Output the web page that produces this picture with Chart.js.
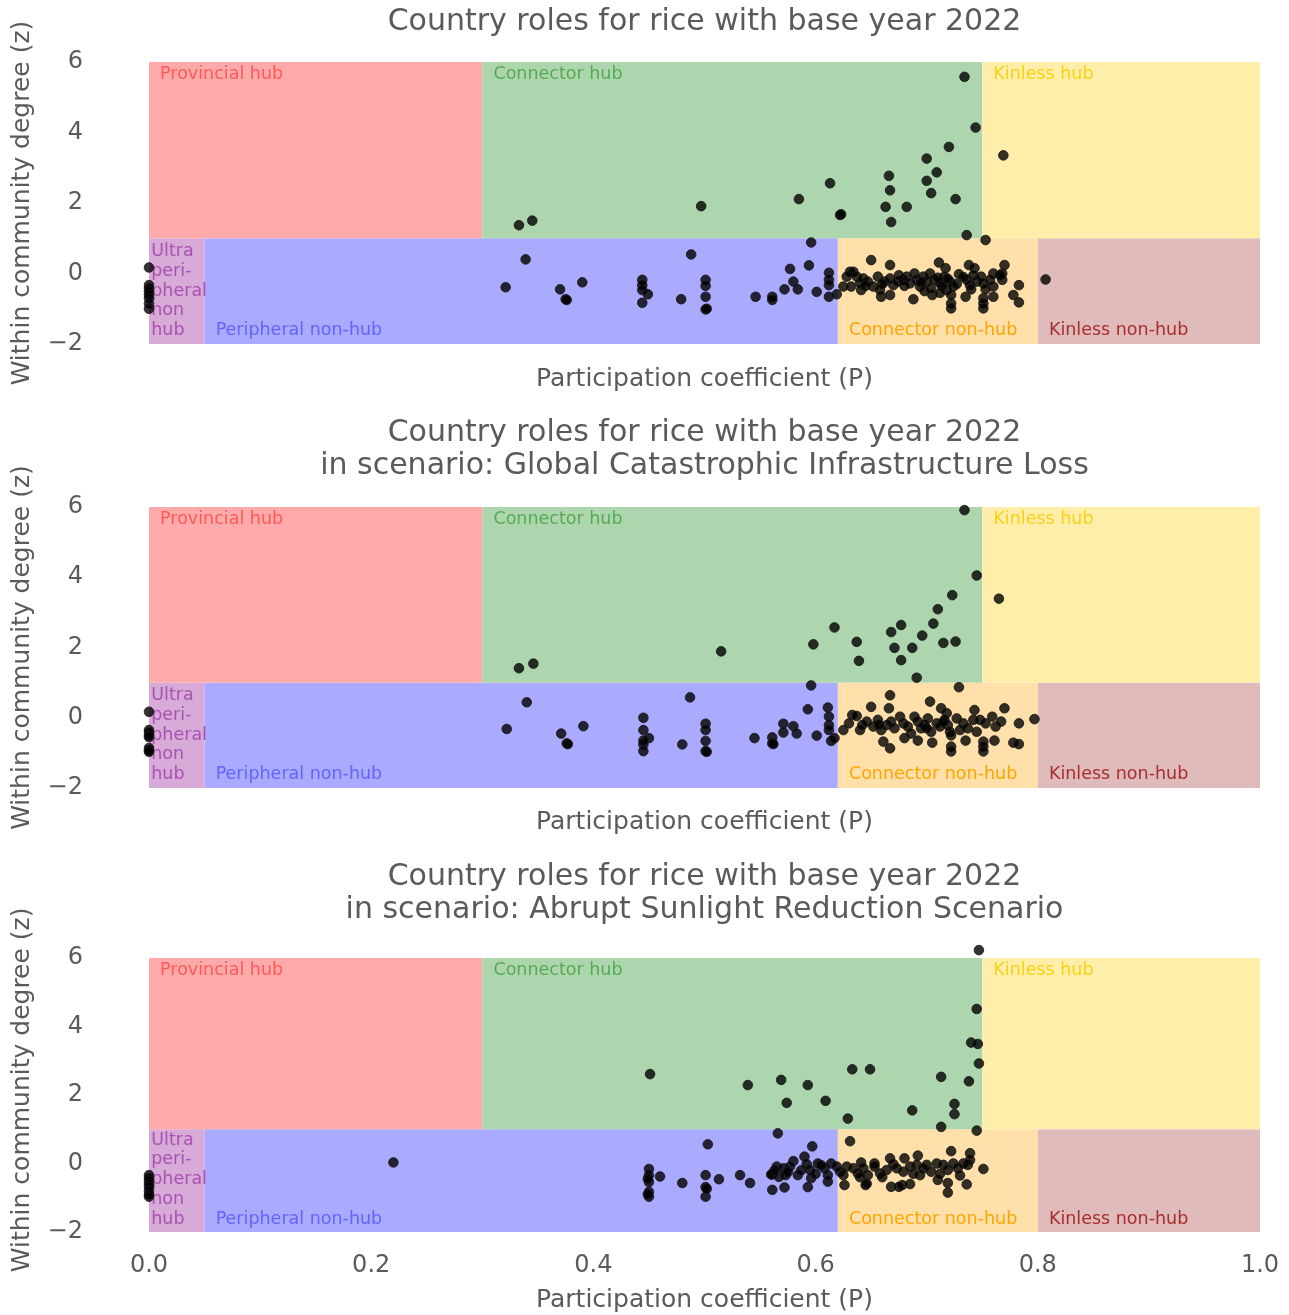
<!DOCTYPE html>
<html>
<head>
<meta charset="utf-8">
<title>Country roles for rice</title>
<script src="https://cdn.jsdelivr.net/npm/chart.js@4.4.1/dist/chart.umd.min.js"></script>
<style>
body { margin: 0; background: #fff; width: 1289px; height: 1315px; overflow: hidden; }
.panel { position: absolute; left: 0; width: 1289px; }
</style>
</head>
<body>
<div class="panel" style="top:0px"><canvas id="chartBase" width="1289" height="400"></canvas></div>
<div class="panel" style="top:400px"><canvas id="chartInfra" width="1289" height="445"></canvas></div>
<div class="panel" style="top:845px"><canvas id="chartSun" width="1289" height="470"></canvas></div>
<script>
// role regions (participation coefficient P, within community degree z)
const roleNames = ['Ultra\nperi-\npheral\nnon\nhub', 'Peripheral non-hub', 'Connector non-hub', 'Kinless non-hub',
                   'Provincial hub', 'Connector hub', 'Kinless hub'];
const roleP0 = [0, 0.05, 0.62, 0.8, 0, 0.3, 0.75];
const roleP1 = [0.05, 0.62, 0.8, 1.0, 0.3, 0.75, 1.0];
const roleZ0 = [-2, -2, -2, -2, 1, 1, 1];
const roleZ1 = [1, 1, 1, 1, 6, 6, 6];

const xTicks = [0, 0.2, 0.4, 0.6, 0.8, 1.0];
const zTicks = [-2, 0, 2, 4, 6];

// base year 2022
const baseP = [
  0, 0, 0, 0, 0, 0, 0, 0,
  0.321, 0.339, 0.370, 0.375, 0.376, 0.390, 0.444, 0.444, 0.444, 0.449, 0.444, 0.479, 0.488,
  0.501, 0.501, 0.501, 0.501, 0.502, 0.546, 0.561, 0.561, 0.572, 0.580, 0.584, 0.577, 0.594,
  0.596, 0.601, 0.612, 0.612, 0.612, 0.612, 0.619,
  0.333, 0.345, 0.497, 0.585, 0.613, 0.622, 0.623, 0.663, 0.666, 0.667, 0.668, 0.682, 0.700,
  0.700, 0.704, 0.709, 0.720, 0.726, 0.734, 0.744, 0.736, 0.769,
  0.753, 0.807, 0.650, 0.667, 0.711, 0.717, 0.738, 0.743, 0.770, 0.768, 0.760, 0.729, 0.783,
  0.778, 0.783, 0.751, 0.751, 0.751, 0.722, 0.722, 0.760, 0.735, 0.705, 0.688, 0.659, 0.667,
  0.641, 0.625, 0.631, 0.634, 0.632,
  0.628, 0.637, 0.640, 0.643, 0.647, 0.652, 0.656, 0.658, 0.662, 0.667, 0.670, 0.674, 0.679,
  0.682, 0.685, 0.689, 0.691, 0.694, 0.697, 0.700, 0.703, 0.704, 0.707, 0.712, 0.716, 0.718,
  0.721, 0.722, 0.724, 0.736, 0.739, 0.742, 0.745, 0.749, 0.751, 0.757, 0.760, 0.768, 0.766,
  0.695, 0.710, 0.714, 0.719, 0.727, 0.733, 0.680, 0.675, 0.660, 0.645, 0.753, 0.740, 0.698, 0.712
];
const baseZ = [
  0.17, -0.33, -0.42, -0.5, -0.6, -0.7, -0.85, -1.0,
  -0.39, 0.40, -0.45, -0.73, -0.75, -0.25, -0.18, -0.33, -0.47, -0.59, -0.83, -0.73, 0.54,
  -0.18, -0.35, -0.66, -1.02, -1.0, -0.66, -0.66, -0.75, -0.45, -0.23, -0.45, 0.13, 0.23,
  0.88, -0.52, 0.02, -0.18, -0.33, -0.66, -0.59,
  1.37, 1.50, 1.91, 2.11, 2.56, 1.66, 1.68, 1.89, 2.77, 2.36, 1.46, 1.89, 3.26,
  2.63, 2.28, 2.87, 3.59, 2.11, 5.58, 4.14, 1.09, 3.35,
  0.95, -0.17, 0.38, 0.24, 0.31, 0.15, 0.24, 0.15, 0.24, 0.0, 0.0, -0.02, -0.33,
  -0.61, -0.82, -0.70, -0.85, -0.99, -0.85, -0.99, -0.66, -0.66, -0.61, -0.73, -0.66, -0.61,
  -0.47, -0.37, 0.05, 0.05, -0.37,
  -0.09, -0.09, -0.28, -0.14, -0.23, -0.37, -0.09, -0.47, -0.23, -0.14, -0.33, -0.23, -0.18,
  -0.09, -0.28, 0.0, -0.18, -0.37, -0.09, -0.23, 0.0, -0.42, -0.18, -0.28, -0.09, -0.47,
  -0.23, -0.61, -0.37, -0.18, -0.33, -0.05, -0.23, -0.09, -0.28, -0.18, -0.37, -0.18, -0.05,
  -0.25, -0.12, -0.35, -0.15, -0.30, -0.10, -0.35, -0.05, -0.30, -0.35, -0.45, -0.45, -0.50, -0.55
];

// scenario: Global Catastrophic Infrastructure Loss
const infraP = [
  0, 0, 0, 0, 0, 0, 0, 0,
  0.322, 0.340, 0.371, 0.376, 0.377, 0.391, 0.445, 0.445, 0.450, 0.445, 0.445, 0.445, 0.480,
  0.487, 0.501, 0.501, 0.501, 0.501, 0.502, 0.545, 0.561, 0.561, 0.562, 0.571, 0.571, 0.580,
  0.583, 0.593, 0.596, 0.601, 0.611, 0.612, 0.612, 0.612, 0.614, 0.617,
  0.333, 0.346, 0.515, 0.598, 0.617, 0.637, 0.639, 0.668, 0.671, 0.677, 0.677, 0.687, 0.691,
  0.696, 0.706, 0.710, 0.715, 0.723, 0.726, 0.734, 0.745, 0.765,
  0.729, 0.667, 0.650, 0.666, 0.703, 0.713, 0.718, 0.743, 0.770, 0.797, 0.783, 0.778, 0.783,
  0.751, 0.751, 0.751, 0.722, 0.722, 0.761, 0.735, 0.705, 0.692, 0.667, 0.661, 0.680,
  0.625, 0.630, 0.633, 0.637, 0.640, 0.642, 0.646, 0.652, 0.656, 0.659, 0.664, 0.668, 0.671,
  0.676, 0.679, 0.683, 0.689, 0.692, 0.695, 0.698, 0.701, 0.704, 0.709, 0.712, 0.716, 0.719,
  0.721, 0.727, 0.733, 0.737, 0.742, 0.745, 0.748, 0.753, 0.759, 0.762, 0.767,
  0.686, 0.700, 0.715, 0.730, 0.657, 0.722
];
const infraZ = [
  0.17, -0.35, -0.42, -0.5, -0.55, -0.86, -0.92, -0.97,
  -0.32, 0.44, -0.45, -0.73, -0.75, -0.24, 0.0, -0.35, -0.58, -0.76, -0.95, -0.65, -0.76,
  0.58, -0.17, -0.35, -0.66, -0.95, -0.97, -0.58, -0.56, -0.73, -0.75, -0.17, -0.42, -0.24,
  -0.45, 0.24, 0.92, -0.51, 0.29, 0.03, -0.21, -0.35, -0.66, -0.58,
  1.41, 1.54, 1.89, 2.09, 2.57, 2.16, 1.62, 2.44, 1.99, 2.64, 1.64, 1.99, 1.14,
  2.34, 2.68, 3.09, 2.13, 3.49, 2.17, 5.91, 4.05, 3.39,
  0.87, 0.64, 0.31, 0.27, 0.46, 0.27, 0.13, 0.22, 0.27, -0.04, -0.16, -0.71, -0.75,
  -0.68, -0.82, -0.96, -0.82, -0.96, -0.65, -0.65, -0.71, -0.65, -0.87, -0.68, -0.58,
  -0.35, -0.16, 0.08, 0.05, -0.35, -0.21, -0.11, -0.25, -0.06, -0.35, -0.21, -0.11, -0.30,
  0.03, -0.16, -0.25, 0.03, -0.11, -0.30, -0.21, -0.02, -0.40, -0.16, -0.25, -0.06, -0.21,
  -0.40, -0.02, -0.16, -0.30, -0.06, -0.40, -0.06, -0.16, 0.03, -0.25, -0.11,
  -0.45, -0.30, -0.12, -0.35, -0.20, -0.50
];

// scenario: Abrupt Sunlight Reduction Scenario
const sunP = [
  0, 0, 0, 0, 0, 0, 0, 0,
  0.220, 0.450, 0.450, 0.450, 0.450, 0.450, 0.449, 0.449, 0.460, 0.480, 0.501, 0.501, 0.501,
  0.502, 0.503, 0.513, 0.532, 0.541, 0.561, 0.561, 0.572, 0.566, 0.593, 0.590, 0.597, 0.580,
  0.611,
  0.565, 0.571, 0.577, 0.560, 0.567, 0.573, 0.584, 0.592, 0.595, 0.596, 0.602, 0.608, 0.611,
  0.614, 0.619, 0.563, 0.587, 0.600, 0.605, 0.575,
  0.451, 0.539, 0.569, 0.574, 0.593, 0.609, 0.629, 0.633, 0.649, 0.687, 0.713, 0.713, 0.725,
  0.725, 0.738, 0.740, 0.746, 0.747, 0.745, 0.747,
  0.745, 0.631, 0.722, 0.739, 0.751, 0.667, 0.680, 0.692, 0.641, 0.653, 0.645, 0.678, 0.710,
  0.719, 0.736, 0.668, 0.675, 0.626, 0.685, 0.646, 0.719,
  0.622, 0.625, 0.628, 0.634, 0.638, 0.643, 0.647, 0.653, 0.658, 0.664, 0.670, 0.673, 0.679,
  0.685, 0.691, 0.694, 0.700, 0.704, 0.709, 0.715, 0.719, 0.724, 0.728, 0.733, 0.737, 0.739,
  0.660, 0.688, 0.712, 0.730, 0.640, 0.697
];
const sunZ = [
  -0.34, -0.42, -0.5, -0.6, -0.68, -0.8, -0.9, -0.97,
  0.03, -0.16, -0.34, -0.54, -0.83, -0.97, -0.45, -0.90, -0.38, -0.57, -0.34, -0.69, -0.97,
  -0.74, 0.56, -0.46, -0.34, -0.57, -0.32, -0.77, -0.70, 0.88, -0.69, 0.20, 0.50, 0.07,
  -0.53,
  -0.09, -0.14, -0.09, -0.32, -0.39, -0.34, -0.34, -0.02, -0.19, -0.43, 0.0, -0.14, -0.34,
  0.0, -0.09, -0.20, -0.20, -0.30, -0.05, -0.25,
  2.61, 2.29, 2.44, 1.77, 2.29, 1.83, 1.31, 2.75, 2.75, 1.55, 2.53, 1.07, 1.74,
  1.44, 2.40, 3.53, 3.49, 2.92, 4.51, 6.23,
  0.96, 0.65, 0.36, 0.30, -0.16, 0.15, 0.15, 0.23, 0.03, 0.0, -0.63, -0.63, -0.48,
  -0.85, -0.61, -0.68, -0.68, -0.63, -0.60, -0.59, -0.57,
  -0.24, -0.34, -0.09, -0.14, -0.29, -0.14, -0.34, -0.09, -0.29, -0.19, -0.02, -0.14, -0.24,
  -0.09, -0.04, -0.34, -0.04, -0.24, 0.0, -0.04, -0.19, 0.0, -0.14, 0.0, -0.04, 0.10,
  -0.40, -0.30, -0.30, -0.35, -0.40, -0.15
];

const titleBase = 'Country roles for rice with base year 2022';

// styles
const roleFill = ['rgb(216,170,216)', 'rgb(170,170,255)', 'rgb(255,223,170)', 'rgb(223,187,187)',
                  'rgb(255,170,170)', 'rgb(174,214,174)', 'rgb(255,237,170)'];
const roleInk = ['rgb(168,82,178)', 'rgb(100,100,255)', 'rgb(255,165,0)', 'rgb(170,45,45)',
                 'rgb(255,90,90)', 'rgb(85,170,85)', 'rgb(250,210,20)'];
const textGrey = '#5a5a5a';
Chart.defaults.font.family = '"DejaVu Sans", sans-serif';

const rolesPlugin = {
  id: 'roles',
  beforeDatasetsDraw(chart) {
    const ctx = chart.ctx, x = chart.scales.x, y = chart.scales.y;
    ctx.save();
    for (let i = 0; i < roleNames.length; i++) {
      const l = x.getPixelForValue(roleP0[i]), r = x.getPixelForValue(roleP1[i]);
      const t = y.getPixelForValue(roleZ1[i]), b = y.getPixelForValue(roleZ0[i]);
      ctx.fillStyle = roleFill[i];
      ctx.fillRect(l, t, r - l, b - t);
    }
    ctx.font = '17.5px "DejaVu Sans"';
    ctx.textBaseline = 'middle';
    ctx.textAlign = 'left';
    for (let i = 0; i < roleNames.length; i++) {
      const lines = roleNames[i].split('\n');
      const lx = x.getPixelForValue(roleP0[i] + (lines.length > 1 ? 0.002 : 0.01));
      ctx.fillStyle = roleInk[i];
      if (roleZ0[i] >= 1) {
        ctx.fillText(lines[0], lx, y.getPixelForValue(5.65));
      } else {
        const ly = y.getPixelForValue(-1.62);
        for (let k = 0; k < lines.length; k++) {
          ctx.fillText(lines[k], lx, ly - (lines.length - 1 - k) * 19.75);
        }
      }
    }
    ctx.restore();
  }
};

function makeChart(id, title, ps, zs, lay) {
  const pts = ps.map((p, i) => ({x: p, y: zs[i]}));
  return new Chart(document.getElementById(id), {
    type: 'scatter',
    data: {
      datasets: [{
        data: pts,
        backgroundColor: 'rgba(0,0,0,0.8)',
        borderColor: 'rgba(25,25,25,0.85)',
        borderWidth: 1,
        pointRadius: 4.8,
        clip: false
      }]
    },
    plugins: [rolesPlugin],
    options: {
      responsive: false,
      animation: false,
      events: [],
      layout: {padding: {left: 0, right: 29, top: 0, bottom: 0}},
      plugins: {
        legend: {display: false},
        tooltip: {enabled: false},
        title: {
          display: true,
          fullSize: false,
          text: title,
          color: textGrey,
          font: {size: 30, weight: 'normal', lineHeight: lay.titleLH},
          padding: {top: lay.titleTop, bottom: lay.titleBottom}
        }
      },
      scales: {
        x: {
          type: 'linear',
          min: 0,
          max: 1,
          afterBuildTicks: s => { s.ticks = xTicks.map(v => ({value: v})); },
          afterFit: s => { s.height = lay.xHeight; s.paddingLeft = 0; s.paddingRight = 0; },
          grid: {display: false, drawTicks: false},
          border: {display: false},
          ticks: {
            display: lay.showX,
            color: textGrey,
            font: {size: 24},
            padding: 19.6,
            maxRotation: 0,
            autoSkip: false,
            callback: v => v.toFixed(1)
          },
          title: {
            display: true,
            text: 'Participation coefficient (P)',
            color: textGrey,
            font: {size: 25},
            padding: {top: 0, bottom: lay.xTitleBottom}
          }
        },
        y: {
          type: 'linear',
          min: -2,
          max: lay.zMax,
          afterBuildTicks: s => { s.ticks = zTicks.map(v => ({value: v})); },
          afterFit: s => { s.width = 149; s.paddingTop = 0; s.paddingBottom = 0; },
          grid: {display: false, drawTicks: false},
          border: {display: false},
          ticks: {
            color: textGrey,
            font: {size: 24},
            padding: 66,
            callback: v => (v < 0 ? '\u2212' + Math.abs(v) : String(v))
          },
          title: {
            display: true,
            text: 'Within community degree (z)',
            color: textGrey,
            font: {size: 25},
            padding: {top: 7, bottom: 0}
          }
        }
      }
    }
  });
}

makeChart('chartBase', titleBase, baseP, baseZ,
  {titleLH: 1.2, titleTop: 4, titleBottom: 22, xHeight: 56, xTitleBottom: 6, showX: false, zMax: 6});
makeChart('chartInfra', [titleBase, 'in scenario: Global Catastrophic Infrastructure Loss'], infraP, infraZ,
  {titleLH: 1.1, titleTop: 16.5, titleBottom: 24.5, xHeight: 57, xTitleBottom: 8, showX: false, zMax: 6});
makeChart('chartSun', [titleBase, 'in scenario: Abrupt Sunlight Reduction Scenario'], sunP, sunZ,
  {titleLH: 1.1, titleTop: 15.5, titleBottom: 21.2, xHeight: 83, xTitleBottom: 0, showX: true, zMax: 6.3});
</script>
</body>
</html>
